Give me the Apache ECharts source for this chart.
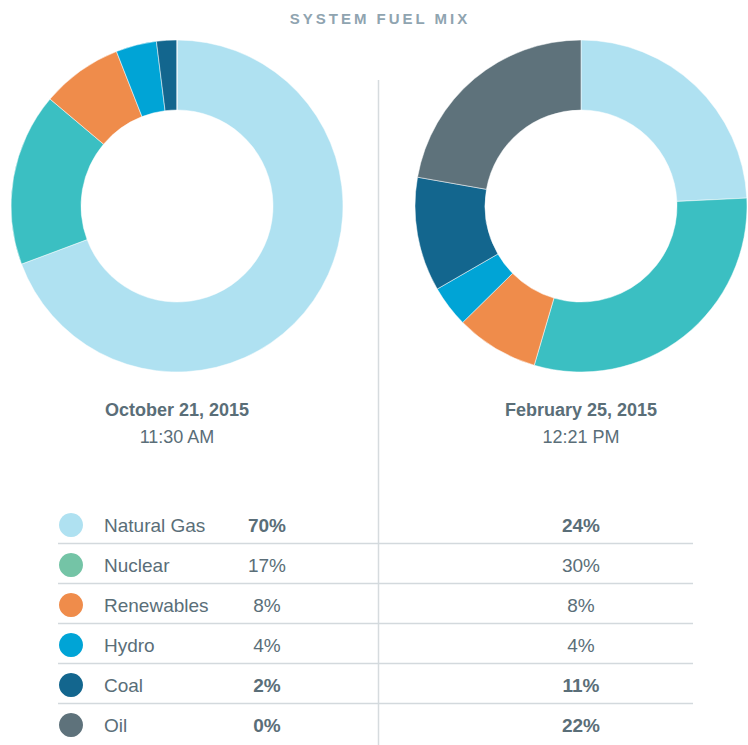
<!DOCTYPE html>
<html>
<head>
<meta charset="utf-8">
<script src="https://cdn.jsdelivr.net/npm/echarts@6/dist/echarts.min.js"></script>
<style>
html,body{margin:0;padding:0;background:#fff;}
#chart{width:748px;height:745px;}
#chart text[style*="15px"], #chart text[font-size="15"], #chart text[font-size="15px"]{letter-spacing:3px;}
</style>
</head>
<body>
<div id="chart"></div>
<script>
// ---- data ----
const categories = ['Natural Gas', 'Nuclear', 'Renewables', 'Hydro', 'Coal', 'Oil'];
const octValues = [70, 17, 8, 4, 2, 0];
const febValues = [24, 30, 8, 4, 11, 22];
const chartTitle = 'SYSTEM FUEL MIX';
const octDate = 'October 21, 2015';
const octTime = '11:30 AM';
const febDate = 'February 25, 2015';
const febTime = '12:21 PM';

// ---- styles ----
const sliceColors = ['#afe1f1', '#3bbfc2', '#ef8c4b', '#00a4d6', '#13668e', '#5e727b'];
const dotColors = ['#afe1f1', '#74c4a6', '#ef8c4b', '#00a4d6', '#13668e', '#5e727b'];
const boldRows = [true, false, false, false, true, true];
const textColor = '#5a6e78';
const fontFam = '"Liberation Sans", Arial, Helvetica, sans-serif';

const chart = echarts.init(document.getElementById('chart'), null, {renderer: 'svg'});

function pieSeries(values, cx) {
  return {
    type: 'pie',
    center: [cx, 206],
    radius: [96, 166],
    startAngle: 90,
    clockwise: true,
    avoidLabelOverlap: false,
    label: {show: false},
    labelLine: {show: false},
    emphasis: {disabled: true},
    silent: true,
    itemStyle: {borderColor: '#ffffff', borderWidth: 0.5},
    data: categories.map((c, i) => ({name: c, value: values[i], itemStyle: {color: sliceColors[i]}}))
  };
}

const graphics = [];
// title
graphics.push({type: 'text', style: {text: chartTitle, x: 380, y: 18, textAlign: 'center', textVerticalAlign: 'middle',
  font: 'bold 15px ' + fontFam, fill: '#8fa4b0'}});
// divider
graphics.push({type: 'line', shape: {x1: 378.5, y1: 80, x2: 378.5, y2: 745}, style: {stroke: '#d6dbde', lineWidth: 1.5}});
// dates
[[177, octDate, octTime], [581, febDate, febTime]].forEach(([cx, d, t]) => {
  graphics.push({type: 'text', style: {text: d, x: cx, y: 410, textAlign: 'center', textVerticalAlign: 'middle',
    font: 'bold 18px ' + fontFam, fill: textColor}});
  graphics.push({type: 'text', style: {text: t, x: cx, y: 437, textAlign: 'center', textVerticalAlign: 'middle',
    font: '18px ' + fontFam, fill: textColor}});
});
// table
categories.forEach((c, i) => {
  const y = 525 + i * 40;
  graphics.push({type: 'circle', shape: {cx: 71, cy: y, r: 12}, style: {fill: dotColors[i]}});
  graphics.push({type: 'text', style: {text: c, x: 104, y: y, textAlign: 'left', textVerticalAlign: 'middle',
    font: '19px ' + fontFam, fill: textColor}});
  const w = boldRows[i] ? 'bold ' : '';
  graphics.push({type: 'text', style: {text: octValues[i] + '%', x: 267, y: y, textAlign: 'center', textVerticalAlign: 'middle',
    font: w + '19px ' + fontFam, fill: textColor}});
  graphics.push({type: 'text', style: {text: febValues[i] + '%', x: 581, y: y, textAlign: 'center', textVerticalAlign: 'middle',
    font: w + '19px ' + fontFam, fill: textColor}});
  if (i < categories.length - 1) {
    graphics.push({type: 'line', shape: {x1: 58, y1: y + 18.5, x2: 693, y2: y + 18.5}, style: {stroke: '#d3d9dd', lineWidth: 1.5}});
  }
});

chart.setOption({
  animation: false,
  backgroundColor: '#ffffff',
  series: [pieSeries(octValues, 177), pieSeries(febValues, 581)],
  graphic: graphics
});
</script>
</body>
</html>
